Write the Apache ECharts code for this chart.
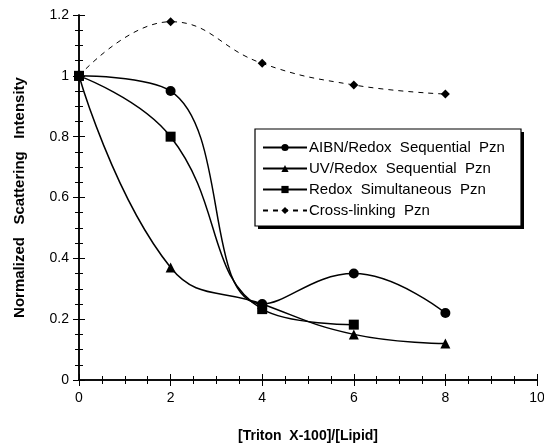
<!doctype html>
<html>
<head>
<meta charset="UTF-8">
<title>scattering</title>
<script src="https://cdn.jsdelivr.net/npm/echarts@6/dist/echarts.min.js"></script>
<style>
  html, body { margin: 0; padding: 0; background: #fff; }
  #main { width: 544px; height: 443px; }
</style>
</head>
<body>
<div id="main"></div>
<script>
// ratio values
var xRatio = [0, 2, 4, 6, 8];
var aibn = [1, 0.95, 0.25, 0.35, 0.22];
var uvRedox = [1, 0.37, 0.25, 0.15, 0.12];
var redoxSim = [1, 0.8, 0.233, 0.182];
var crossLink = [1, 1.178, 1.041, 0.97, 0.94];

var names = ['AIBN/Redox  Sequential  Pzn', 'UV/Redox  Sequential  Pzn',
             'Redox  Simultaneous  Pzn', 'Cross-linking  Pzn'];

function pairs(ys) {
    return ys.map(function (y, i) { return [xRatio[i], y]; });
}

var font = 'Arial, "Liberation Sans", sans-serif';
var axisLine = { show: true, lineStyle: { color: '#000', width: 1.5 } };

function makeSeries(name, ys, symbol, size, dashed) {
    return {
        name: name,
        type: 'line',
        data: pairs(ys),
        smooth: 0.45,
        symbol: symbol,
        symbolSize: size,
        showAllSymbol: true,
        itemStyle: { color: '#000' },
        lineStyle: { color: '#000', width: dashed ? 1 : 1.5, type: dashed ? [5, 5] : 'solid' },
        emphasis: { disabled: true },
        z: dashed ? 1 : 2
    };
}

var chart = echarts.init(document.getElementById('main'));
chart.setOption({
    animation: false,
    backgroundColor: '#fff',
    textStyle: { fontFamily: font },
    grid: { left: 79, right: 7, top: 15, bottom: 63, outerBoundsMode: 'none' },
    graphic: [
        { type: 'rect', z: 90, shape: { x: 258, y: 132, width: 266, height: 97 },
          style: { fill: '#000' } },
        { type: 'rect', z: 91, shape: { x: 255, y: 129, width: 266, height: 97 },
          style: { fill: '#fff', stroke: '#000', lineWidth: 1.2 } }
    ],
    legend: {
        data: names,
        orient: 'vertical',
        left: 262, top: 140,
        itemWidth: 44, itemHeight: 9,
        itemGap: 6,
        padding: 0,
        z: 95,
        textStyle: { fontSize: 15, color: '#000', fontFamily: font, padding: [0, 0, 0, -3] }
    },
    xAxis: [{
        type: 'value', min: 0, max: 10, interval: 2,
        name: '[Triton  X-100]/[Lipid]', nameLocation: 'middle', nameGap: 49,
        nameTextStyle: { fontSize: 14, fontWeight: 'bold', color: '#000' },
        axisLine: axisLine,
        axisTick: { inside: true, length: 6, lineStyle: { color: '#000' } },
        minorTick: { show: true, splitNumber: 4, length: 4, lineStyle: { color: '#000' } },
        axisLabel: { fontSize: 14, color: '#000', margin: 11 },
        splitLine: { show: false }
    }, {
        type: 'value', min: 0, max: 10, interval: 2, position: 'top',
        axisLine: axisLine,
        axisTick: { inside: true, length: 6, lineStyle: { color: '#000' } },
        minorTick: { show: true, splitNumber: 4, length: 4, lineStyle: { color: '#000' } },
        axisLabel: { show: false },
        splitLine: { show: false }
    }],
    yAxis: [{
        type: 'value', min: 0, max: 1.2, interval: 0.2,
        name: 'Normalized   Scattering   Intensity', nameLocation: 'middle', nameGap: 52,
        nameTextStyle: { fontSize: 15, fontWeight: 'bold', color: '#000' },
        axisLine: axisLine,
        axisTick: { inside: true, length: 6, lineStyle: { color: '#000' } },
        minorTick: { show: true, splitNumber: 4, length: 4, lineStyle: { color: '#000' } },
        axisLabel: { fontSize: 14, color: '#000', margin: 10,
            formatter: function (v) { return String(Math.round(v * 10) / 10); } },
        splitLine: { show: false }
    }, {
        type: 'value', min: 0, max: 1.2, interval: 0.2, position: 'right',
        axisLine: axisLine,
        axisTick: { inside: true, length: 6, lineStyle: { color: '#000' } },
        minorTick: { show: true, splitNumber: 4, length: 4, lineStyle: { color: '#000' } },
        axisLabel: { show: false },
        splitLine: { show: false }
    }],
    series: [
        makeSeries(names[0], aibn, 'circle', 10, false),
        makeSeries(names[1], uvRedox, 'triangle', 10, false),
        makeSeries(names[2], redoxSim, 'rect', 10, false),
        makeSeries(names[3], crossLink, 'diamond', 9, true)
    ]
});
</script>
</body>
</html>
